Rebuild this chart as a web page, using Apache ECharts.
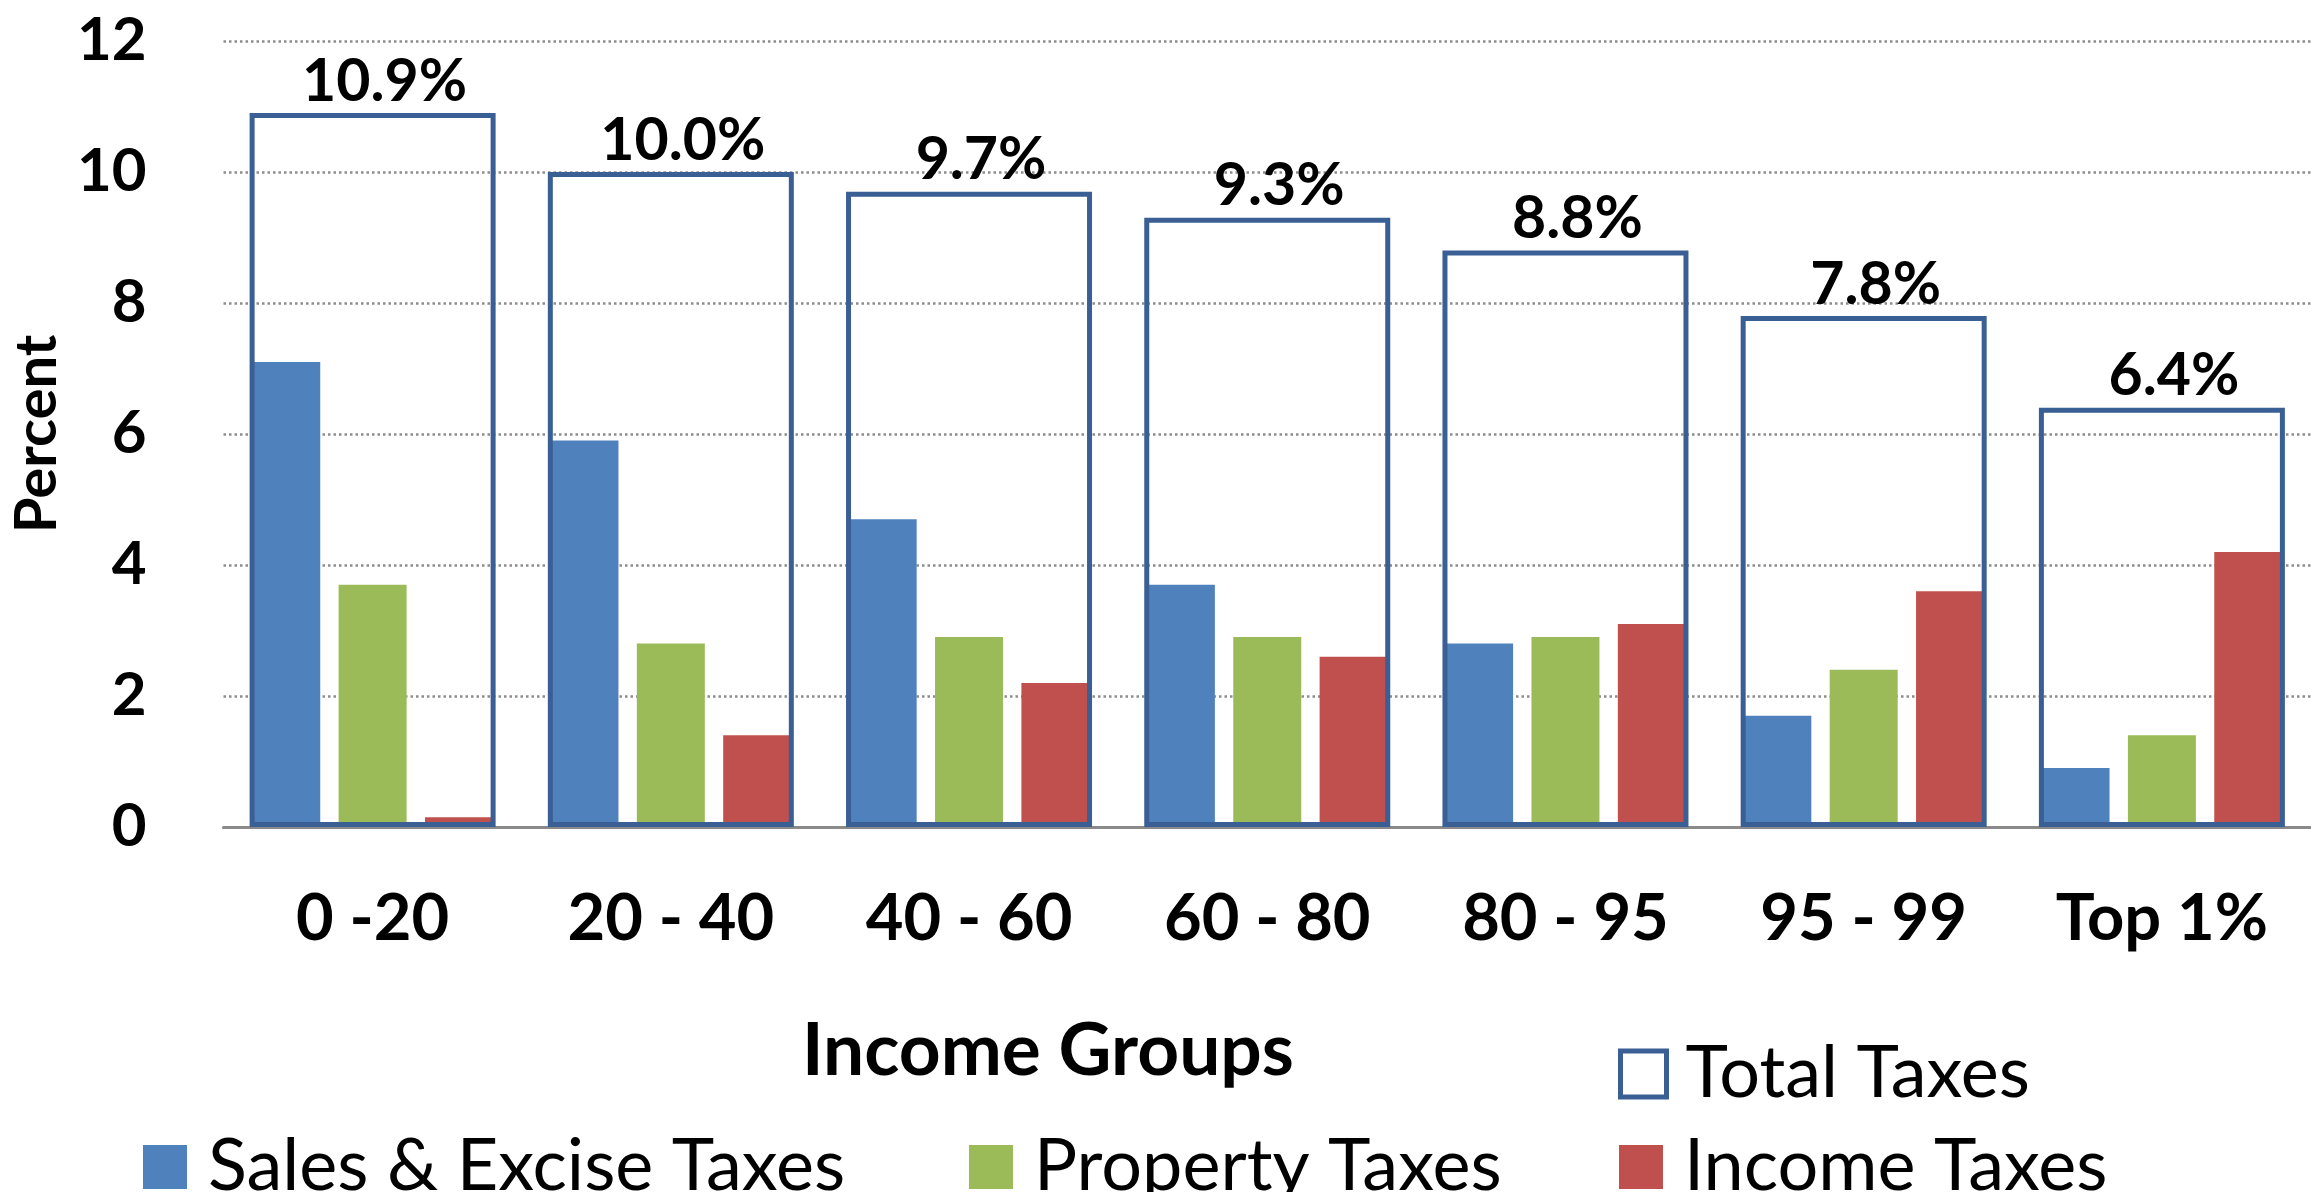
<!DOCTYPE html>
<html>
<head>
<meta charset="utf-8">
<title>Taxes as a Share of Income by Income Group</title>
<script src="https://cdn.jsdelivr.net/npm/echarts@6/dist/echarts.min.js"></script>
<style>
  html, body { margin: 0; padding: 0; background: #ffffff; }
  #chart { width: 2311px; height: 1192px; }
</style>
</head>
<body>
<div id="chart"></div>
<script>
// Income groups (percentile bands)
const incomeGroups = ['0 -20', '20 - 40', '40 - 60', '60 - 80', '80 - 95', '95 - 99', 'Top 1%'];

// Tax shares, percent of income
const salesExciseTaxes = [7.1, 5.9, 4.7, 3.7, 2.8, 1.7, 0.9];
const propertyTaxes    = [3.7, 2.8, 2.9, 2.9, 2.9, 2.4, 1.4];
const incomeTaxes      = [0.15, 1.4, 2.2, 2.6, 3.1, 3.6, 4.2];
const totalTaxes       = [10.9, 10.0, 9.7, 9.3, 8.8, 7.8, 6.4];

// Value axis ticks
const yTicks = [0, 2, 4, 6, 8, 10, 12];

const FONT = 'Lato';
const BLUE = '#4F81BD';
const GREEN = '#9BBB59';
const RED = '#C0504D';
const OUTLINE = '#3A5F94';

const chart = echarts.init(document.getElementById('chart'));

const legendText = { fontFamily: FONT, fontSize: 72, color: '#000', padding: [0, 0, 0, 16] };

chart.setOption({
  backgroundColor: '#ffffff',
  animation: false,
  title: {
    text: 'Income Groups',
    left: 797,
    top: 1010,
    textStyle: { fontFamily: FONT, fontSize: 73, fontWeight: 'bold', color: '#000' }
  },
  legend: [
    {
      data: ['Total Taxes'],
      left: 1613, top: 1033,
      itemWidth: 46, itemHeight: 46, itemGap: 0,
      icon: 'rect',
      itemStyle: { color: '#ffffff', borderColor: OUTLINE, borderWidth: 5 },
      textStyle: Object.assign({}, legendText, { padding: [0, 0, 24, 14] }),
      selectedMode: false
    },
    {
      data: ['Sales & Excise Taxes'],
      left: 138, top: 1126,
      itemWidth: 44, itemHeight: 44,
      icon: 'rect', textStyle: legendText, selectedMode: false
    },
    {
      data: ['Property Taxes'],
      left: 964, top: 1126,
      itemWidth: 44, itemHeight: 44,
      icon: 'rect', textStyle: legendText, selectedMode: false
    },
    {
      data: ['Income Taxes'],
      left: 1614, top: 1126,
      itemWidth: 44, itemHeight: 44,
      icon: 'rect', textStyle: legendText, selectedMode: false
    }
  ],
  grid: { left: 210, right: 0, top: 41, bottom: 365, containLabel: false },
  xAxis: [
    {
      type: 'category',
      data: incomeGroups,
      axisLine: { show: true, lineStyle: { color: '#8a8a8a', width: 3 } },
      axisTick: { show: false },
      axisLabel: {
        margin: 60,
        fontFamily: FONT, fontSize: 65, fontWeight: 'bold', color: '#000'
      }
    },
    {
      type: 'category',
      data: incomeGroups,
      show: false
    }
  ],
  yAxis: {
    type: 'value',
    min: yTicks[0],
    max: yTicks[yTicks.length - 1],
    interval: yTicks[1] - yTicks[0],
    name: 'Percent',
    nameLocation: 'middle',
    nameRotate: 90,
    nameGap: 140,
    nameTextStyle: { fontFamily: FONT, fontSize: 58, fontWeight: 'bold', color: '#000' },
    axisLine: { show: false },
    axisTick: { show: false },
    axisLabel: {
      margin: 77,
      fontFamily: FONT, fontSize: 60, fontWeight: 'bold', color: '#000'
    },
    splitLine: {
      show: true,
      lineStyle: { color: '#8c8c8c', width: 2.5, type: [2.5, 3] }
    }
  },
  series: [
    {
      name: 'Sales & Excise Taxes',
      type: 'bar',
      xAxisIndex: 0,
      data: salesExciseTaxes,
      barWidth: 68,
      barGap: '27%',
      itemStyle: { color: BLUE },
      z: 2
    },
    {
      name: 'Property Taxes',
      type: 'bar',
      xAxisIndex: 0,
      data: propertyTaxes,
      barWidth: 68,
      barGap: '27%',
      itemStyle: { color: GREEN },
      z: 2
    },
    {
      name: 'Income Taxes',
      type: 'bar',
      xAxisIndex: 0,
      data: incomeTaxes,
      barWidth: 68,
      barGap: '27%',
      itemStyle: { color: RED },
      z: 2
    },
    {
      name: 'Total Taxes',
      type: 'bar',
      xAxisIndex: 1,
      data: totalTaxes,
      barWidth: 246,
      itemStyle: { color: 'rgba(0,0,0,0)', borderColor: OUTLINE, borderWidth: 5 },
      label: {
        show: true,
        position: 'top',
        distance: 2,
        offset: [12, 0],
        formatter: (p) => p.value.toFixed(1) + '%',
        fontFamily: FONT, fontSize: 59, fontWeight: 'bold', color: '#000'
      },
      z: 3
    }
  ]
});
</script>
</body>
</html>
